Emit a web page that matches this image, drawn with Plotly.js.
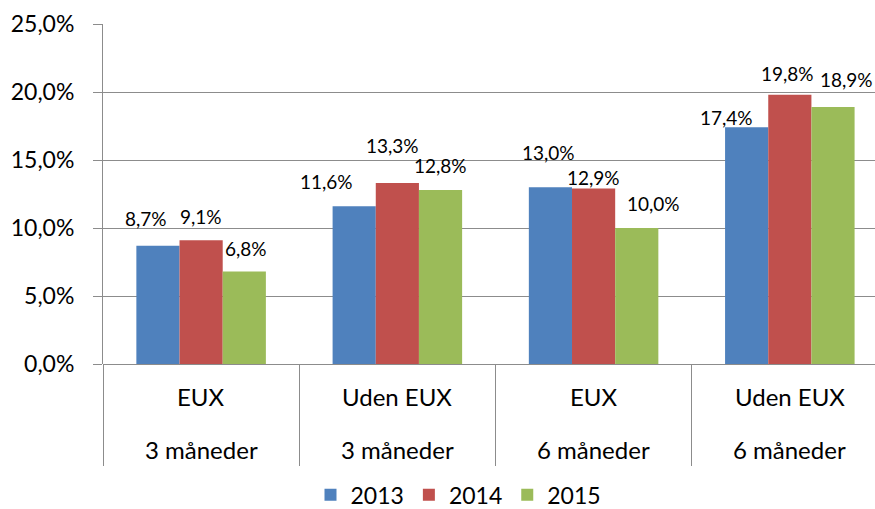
<!DOCTYPE html>
<html>
<head>
<meta charset="utf-8">
<script src="https://cdn.plot.ly/plotly-3.0.1.min.js"></script>
<style>html,body{margin:0;padding:0;background:#fff;}#chart{width:875px;height:509px;}</style>
</head>
<body>
<div id="chart"></div>
<script>
// ---- data ----
var groups = ["EUX", "Uden EUX", "EUX", "Uden EUX"];
var periods = ["3 måneder", "3 måneder", "6 måneder", "6 måneder"];
var years = ["2013", "2014", "2015"];
var v2013 = [8.7, 11.6, 13.0, 17.4];
var v2014 = [9.1, 13.3, 12.9, 19.8];
var v2015 = [6.8, 12.8, 10.0, 18.9];
var yTicks = [0, 5, 10, 15, 20, 25];

// ---- style ----
var colors = ["#4F81BD", "#C0504D", "#9BBB59"];
var FONT = "Lato, 'Open Sans', sans-serif";
var bargap = 0.34;
// label nudges (px) per series, per category, mimicking the reference's label placement
var labelDx = [[-12, -28, -2, -20], [0, -5, 0, -2], [2, 0, 17, 13]];
var labelDy = [[27, 25, 35, 10], [24, 38, 11, 21], [23, 24, 25, 27]];

var series = [v2013, v2014, v2015];
var idx = groups.map(function (_, i) { return i; });

var traces = series.map(function (vals, s) {
  return {
    type: "bar",
    name: years[s],
    x: idx,
    y: vals,
    marker: { color: colors[s], line: { width: 0 } },
    hoverinfo: "skip"
  };
});

var annotations = [];
var bw = (1 - bargap) / 3;
series.forEach(function (vals, s) {
  vals.forEach(function (v, i) {
    annotations.push({
      xref: "x", yref: "y",
      x: i + (s - 1) * bw, y: v,
      text: v.toFixed(1).replace(".", ",") + "%",
      showarrow: false,
      xanchor: "center", yanchor: "middle",
      xshift: labelDx[s][i], yshift: labelDy[s][i],
      font: { family: FONT, size: 19, color: "#000" }
    });
  });
});
// two-level category labels
idx.forEach(function (i) {
  annotations.push({
    xref: "x", yref: "paper", x: i, y: -0.097,
    text: groups[i], showarrow: false, xanchor: "center", yanchor: "middle",
    font: { family: FONT, size: 24, color: "#000" }
  });
  annotations.push({
    xref: "x", yref: "paper", x: i, y: -0.25,
    text: periods[i], showarrow: false, xanchor: "center", yanchor: "middle",
    font: { family: FONT, size: 24, color: "#000" }
  });
});

var layout = {
  width: 875, height: 509,
  margin: { l: 103, r: 0, t: 24, b: 145 },
  paper_bgcolor: "#fff", plot_bgcolor: "#fff",
  separators: ", ",
  barmode: "group",
  bargap: bargap,
  bargroupgap: 0,
  showlegend: true,
  legend: {
    orientation: "h", xref: "container", yref: "container",
    x: 0.524, xanchor: "center", y: 0.028, yanchor: "middle",
    font: { family: FONT, size: 23, color: "#000" },
    traceorder: "normal", itemwidth: 30
  },
  xaxis: {
    type: "linear",
    range: [-0.5, 3.434],
    showgrid: false, zeroline: false,
    showticklabels: false,
    tickmode: "array",
    tickvals: [-0.5, 0.5, 1.5, 2.5, 3.5],
    ticks: "outside", ticklen: 101, tickcolor: "#8c8c8c", tickwidth: 1,
    showline: false
  },
  yaxis: {
    range: [0, 25],
    tickmode: "array",
    tickvals: yTicks,
    ticktext: yTicks.map(function (t) { return t.toFixed(1).replace(".", ",") + "%"; }),
    showgrid: true, gridcolor: "#8c8c8c", gridwidth: 1,
    zeroline: true, zerolinecolor: "#8c8c8c", zerolinewidth: 1,
    showline: true, linecolor: "#8c8c8c", linewidth: 1,
    ticks: "outside", ticklen: 9, tickcolor: "#8c8c8c",
    ticklabelstandoff: 14,
    tickfont: { family: FONT, size: 23, color: "#000" }
  },
  annotations: annotations
};

Plotly.newPlot("chart", traces, layout, { staticPlot: true, displayModeBar: false });
</script>
</body>
</html>
